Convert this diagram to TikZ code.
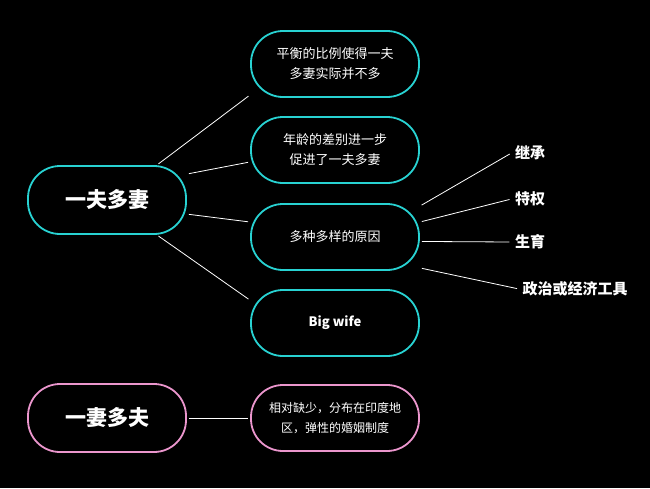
\documentclass[tikz,border=0pt]{standalone}
\usepackage{fontspec}
\setmainfont{Noto Sans CJK SC}
\usetikzlibrary{positioning}
\definecolor{colorCyan}{RGB}{40,210,210}
\definecolor{colorPink}{RGB}{235,150,205}
\tikzset{
  pill/.style={draw=colorCyan, line width=1.8pt, rounded corners=32pt, minimum width=168pt, minimum height=66pt, align=center, text=white, font=\fontsize{13}{20}\selectfont},
  root/.style={pill, minimum width=158pt, minimum height=68pt, font=\bfseries\fontsize{21}{24}\selectfont},
  leaf/.style={text=white, font=\bfseries\fontsize{15}{17}\selectfont},
  link/.style={white, line width=0.8pt, shorten <=2pt, shorten >=2pt}
}
\begin{document}
\begin{tikzpicture}[x=1pt, y=-1pt]
\fill[black] (0,0) rectangle (650,488);
\node[root] (yfdq) at (107,200) {一夫多妻};
\node[root, draw=colorPink] (yqdf) at (107,418) {一妻多夫};
\node[pill] (ratio) at (335,64) {平衡的比例使得一夫\\多妻实际并不多};
\node[pill] (age) at (335,150) {年龄的差别进一步\\促进了一夫多妻};
\node[pill] (cause) at (335,237) {多种多样的原因};
\node[pill, font=\bfseries\fontsize{13}{20}\selectfont] (big) at (335,323) {Big wife};
\node[pill, draw=colorPink, font=\fontsize{12}{20}\selectfont] (rare) at (335,418) {相对缺少，分布在印度地\\区，弹性的婚姻制度};
\node[leaf] (inherit) at (530,153) {继承};
\node[leaf] (priv) at (530,199) {特权};
\node[leaf] (birth) at (530,242) {生育};
\node[leaf] (tool) at (575,289) {政治或经济工具};
% connectors
\draw[link] (yfdq.35) -- (ratio.200);
\draw[link] (yfdq.18) -- (age.188);
\draw[link] (yfdq.-10) -- (cause.170);
\draw[link] (yfdq.-35) -- (big.165);
\draw[link] (cause.20) -- (inherit.west);
\draw[link] (cause.10) -- (priv.west);
\draw[link] (cause.-3) -- (birth.west);
\draw[link] (cause.-20) -- (tool.west);
\draw[link] (yqdf.east) -- (rare.west);
\end{tikzpicture}
\end{document}
